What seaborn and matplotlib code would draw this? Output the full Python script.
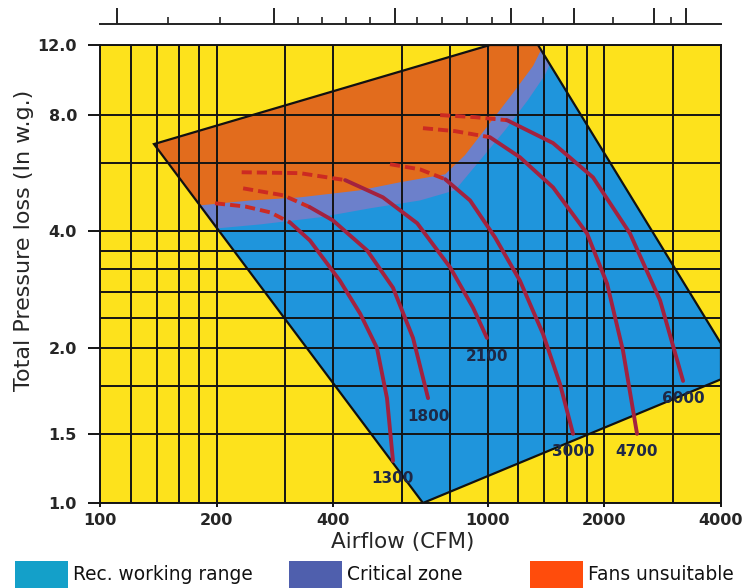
import numpy as np
import pandas as pd
import matplotlib
matplotlib.use("Agg")
import matplotlib.pyplot as plt
from matplotlib.patches import Rectangle
from matplotlib.ticker import FixedLocator, NullFormatter
import seaborn as sns

sns.set_theme(style="white")
plt.rcParams["font.family"] = ["DejaVu Sans"]

# axis ticks / grid (CFM, in. w.g.)
x_ticks = [100, 200, 400, 1000, 2000, 4000]
x_grid = [120, 140, 160, 180, 300, 600, 800, 1200, 1400, 1600, 1800, 3000]
y_ticks = [1.0, 1.5, 2.0, 4.0, 8.0, 12.0]
y_grid = [6.0, 3.56, 3.2, 2.79, 2.39, 1.76]
# the printed pressure axis is not evenly spaced: where each label sits (0 = bottom, 1 = top)
y_tick_pos = [0.0, 0.151, 0.339, 0.593, 0.847, 1.0]

# ruler along the top edge of the scan
ruler_long = [110.6, 281, 577, 1149, 1671, 2688, 3250]
ruler_short = [150, 204, 324, 374, 431, 497, 658, 763, 885, 1026, 1390, 2107, 2974]

# zones
envelope_cfm = [137.8, 1014, 1349, 4000, 4000, 681]
envelope_pr = [6.73, 12.0, 12.0, 2.05, 1.80, 1.0]
critical_cfm = [137.8, 1014, 1349, 1449, 1406, 1271, 1109, 956, 824, 669, 497, 369, 259, 199]
critical_pr = [6.73, 12.0, 12.0, 10.75, 10.09, 8.73, 7.31, 6.11, 5.11, 4.81, 4.59, 4.35, 4.17, 4.07]
unsuitable_cfm = [137.8, 1014, 1349, 1373, 1310, 1163, 1014, 874, 777, 594, 469, 328, 244, 181]
unsuitable_pr = [6.73, 12.0, 12.0, 11.66, 10.63, 9.09, 7.63, 6.30, 5.62, 5.36, 5.11, 4.90, 4.81, 4.67]

# fan curves (rpm), first points of each are the dashed part
fan_rpm = ["1300", "1800", "2100", "3000", "4700", "6000"]
fan_cfm = [
    [198, 237, 275, 309, 348, 416, 469, 518, 550, 570],
    [234, 297, 348, 399, 489, 570, 642, 702],
    [232, 328, 429, 537, 658, 800, 917, 996],
    [560, 669, 777, 901, 1045, 1212, 1390, 1538, 1661],
    [681, 824, 1014, 1212, 1475, 1805, 2033, 2235, 2429],
    [754, 928, 1122, 1475, 1870, 2330, 2786, 3193],
]
fan_pr = [
    [4.73, 4.64, 4.48, 4.22, 3.79, 2.98, 2.45, 2.0, 1.69, 1.28],
    [5.17, 4.96, 4.62, 4.27, 3.57, 2.86, 2.12, 1.69],
    [5.69, 5.66, 5.43, 4.90, 4.20, 3.23, 2.54, 2.12],
    [5.97, 5.79, 5.46, 4.81, 3.86, 2.98, 2.17, 1.77, 1.50],
    [7.40, 7.27, 7.01, 6.22, 5.20, 3.95, 2.93, 1.98, 1.50],
    [8.0, 7.90, 7.76, 6.77, 5.52, 3.95, 2.65, 1.79],
]
fan_n_dashed = [4, 3, 3, 3, 3, 3]

legend_labels = ["Rec. working range", "Critical zone", "Fans unsuitable"]
legend_colors = ["#14A0C9", "#4F5FAD", "#FF4C0C"]

# long table for seaborn: dashed part shares its last point with the solid part
rows = []
for rpm, xs, ys, nd in zip(fan_rpm, fan_cfm, fan_pr, fan_n_dashed):
    for i, (xv, yv) in enumerate(zip(xs, ys)):
        if i < nd:
            rows.append({"curve": rpm, "part": "dashed", "cfm": xv, "pr": yv})
        if i >= nd - 1:
            rows.append({"curve": rpm, "part": "solid", "cfm": xv, "pr": yv})
df_fans = pd.DataFrame(rows)


def fwd(v):
    v = np.clip(np.asarray(v, dtype=float), 1e-3, None)
    return np.interp(np.log(v), np.log(y_ticks), y_tick_pos)


def inv(p):
    return np.exp(np.interp(np.asarray(p, dtype=float), y_tick_pos, np.log(y_ticks)))


W, H = 748, 588
fig = plt.figure(figsize=(W / 100, H / 100), dpi=100)
ax = fig.add_axes([100 / W, 1 - 503 / H, 621 / W, 458 / H])

ax.set_xscale("log")
ax.set_yscale("function", functions=(fwd, inv))
ax.set_xlim(100, 4000)
ax.set_ylim(1.0, 12.0)
ax.set_facecolor("#FDE21C")

ax.fill(envelope_cfm, envelope_pr, color="#1F95DC", zorder=1, lw=0)
ax.fill(critical_cfm, critical_pr, color="#6C80CB", zorder=1.1, lw=0)
ax.fill(unsuitable_cfm, unsuitable_pr, color="#E26C1D", zorder=1.2, lw=0)
ax.fill(envelope_cfm, envelope_pr, facecolor="none", edgecolor="#111111", lw=1.6, zorder=3)

sns.lineplot(
    data=df_fans, x="cfm", y="pr", units="curve", hue="part", style="part",
    palette={"dashed": "#CC2A22", "solid": "#A3223F"},
    dashes={"dashed": (2.6, 1.3), "solid": ""},
    estimator=None, sort=False, lw=2.8, legend=False, ax=ax, zorder=4,
)

for rpm, xs, ys in zip(fan_rpm, fan_cfm, fan_pr):
    ax.annotate(rpm, (xs[-1], ys[-1]), xytext=(0, -13), textcoords="offset points",
                ha="center", va="center", fontsize=11, fontweight="bold",
                color="#1E2846", zorder=5)

ax.xaxis.set_major_locator(FixedLocator(x_ticks))
ax.xaxis.set_minor_locator(FixedLocator(x_grid))
ax.set_xticklabels([str(v) for v in x_ticks])
ax.xaxis.set_minor_formatter(NullFormatter())
ax.yaxis.set_major_locator(FixedLocator(y_ticks))
ax.yaxis.set_minor_locator(FixedLocator(y_grid))
ax.set_yticklabels([f"{v:.1f}" for v in y_ticks])
ax.yaxis.set_minor_formatter(NullFormatter())

ax.set_axisbelow(False)
ax.grid(True, which="both", color="#141414", lw=1.4, zorder=2.5)
ax.tick_params(axis="y", which="major", direction="out", length=8.6, width=1.4,
               pad=8, labelsize=11.5, color="#141414", left=True)
ax.tick_params(axis="x", which="major", direction="out", length=3, width=1.4,
               pad=4, labelsize=11.5, color="#141414", bottom=True)
ax.tick_params(which="minor", length=0)
for lbl in ax.get_xticklabels() + ax.get_yticklabels():
    lbl.set_fontweight("bold")
for sp in ax.spines.values():
    sp.set_color("#141414")
    sp.set_linewidth(1.4)

ax.set_xlabel("Airflow (CFM)", fontsize=15.5)
ax.set_ylabel("Total Pressure loss (In w.g.)", fontsize=16)
ax.xaxis.set_label_coords(0.488, -0.063)
ax.yaxis.set_label_coords(-0.106, 0.574)

# ruler strip at the top
ax_r = fig.add_axes([100 / W, 1 - 24 / H, 621 / W, 20 / H])
ax_r.set_xscale("log")
ax_r.set_xlim(100, 4000)
ax_r.set_yticks([])
ax_r.xaxis.set_major_locator(FixedLocator(ruler_long))
ax_r.xaxis.set_minor_locator(FixedLocator(ruler_short))
ax_r.xaxis.set_major_formatter(NullFormatter())
ax_r.xaxis.set_minor_formatter(NullFormatter())
ax_r.tick_params(axis="x", which="major", direction="in", length=11.5, width=1.4,
                 color="#222222", bottom=True)
ax_r.tick_params(axis="x", which="minor", direction="in", length=5, width=1.2,
                 color="#222222", bottom=True)
for side in ["top", "left", "right"]:
    ax_r.spines[side].set_visible(False)
ax_r.spines["bottom"].set_linewidth(1.4)
ax_r.spines["bottom"].set_color("#222222")
ax_r.patch.set_alpha(0)

# legend swatches along the bottom
sw_x = [15, 289, 530]
for x0, lab, col in zip(sw_x, legend_labels, legend_colors):
    fig.patches.append(Rectangle((x0 / W, 0), 53 / W, 27 / H, transform=fig.transFigure,
                                 facecolor=col, edgecolor="none"))
    fig.text((x0 + 58) / W, 1 - 574 / H, lab, fontsize=13.4, va="center", ha="left",
             color="#111111")

fig.savefig("out.png", dpi=100)
